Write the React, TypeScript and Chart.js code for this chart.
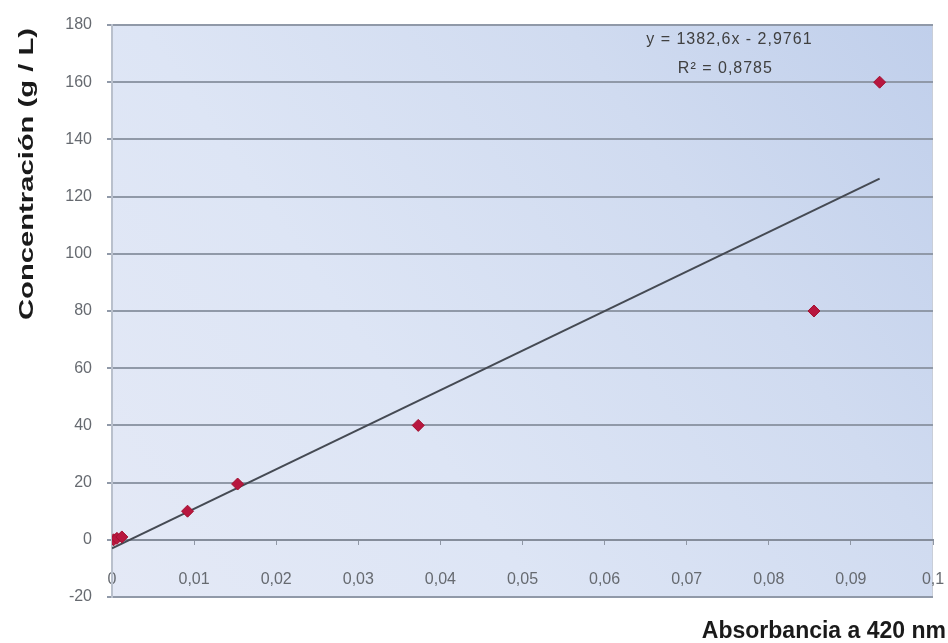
import React, { useEffect, useRef } from "react";
import { Chart, registerables } from "chart.js";

Chart.register(...registerables);

// Absorbance readings (x) and concentrations in g/L (y)
const absorbancia = [0.0002, 0.0006, 0.0012, 0.0092, 0.0153, 0.0373, 0.0855, 0.0935];
const concentracion = [0, 0.5, 1, 10, 19.5, 40, 80, 160];

// Linear fit reported on the chart
const pendiente = 1382.6;
const intercepto = -2.9761;
const ecuacion = "y = 1382,6x - 2,9761";
const coefR2 = "R² = 0,8785";

const tituloY = "Concentración (g / L)";
const tituloX = "Absorbancia a 420 nm";

const FONT = "'Liberation Sans', 'DejaVu Sans', sans-serif";

const fmt = (v: number) => {
  const n = Number(v.toFixed(3));
  return String(n).replace(".", ",");
};

const plotBackground = {
  id: "plotBackground",
  beforeDraw(chart: any) {
    const { ctx, chartArea: a, width, height } = chart;
    ctx.save();
    ctx.fillStyle = "#ffffff";
    ctx.fillRect(0, 0, width, height);
    const g = ctx.createLinearGradient(a.left, a.bottom, a.right, a.top);
    g.addColorStop(0, "#e4e9f6");
    g.addColorStop(0.35, "#dde5f5");
    g.addColorStop(0.7, "#d0dbf0");
    g.addColorStop(1, "#c0cfeb");
    ctx.fillStyle = g;
    ctx.fillRect(a.left, a.top, a.right - a.left, a.bottom - a.top);
    ctx.strokeStyle = "#c9ced8";
    ctx.lineWidth = 1;
    ctx.strokeRect(a.left + 0.5, a.top + 0.5, a.right - a.left - 1, a.bottom - a.top - 1);
    ctx.restore();
  },
};

const annotations = {
  id: "annotations",
  afterDraw(chart: any) {
    const { ctx, chartArea: a } = chart;
    ctx.save();

    // trendline equation and R²
    ctx.fillStyle = "#404040";
    ctx.textAlign = "center";
    ctx.textBaseline = "middle";
    ctx.font = `16px ${FONT}`;
    (ctx as any).letterSpacing = "1px";
    const cx = a.left + (a.right - a.left) * 0.752;
    ctx.fillText(ecuacion, cx, a.top + 15);
    ctx.fillText(coefR2, cx - 4, a.top + 44);
    (ctx as any).letterSpacing = "0px";

    // x axis title, right aligned under the plot
    ctx.fillStyle = "#1a1a1a";
    ctx.font = `bold 23px ${FONT}`;
    ctx.textAlign = "right";
    ctx.textBaseline = "alphabetic";
    ctx.fillText(tituloX, chart.width - 2, chart.height - 5);

    // y axis title, rotated and anchored to the top of the axis
    ctx.font = `bold 20px ${FONT}`;
    const w = ctx.measureText(tituloY).width;
    const span = 292;
    ctx.translate(27, a.top + 3);
    ctx.rotate(-Math.PI / 2);
    ctx.scale(span / w, 1);
    ctx.textAlign = "right";
    ctx.textBaseline = "middle";
    ctx.fillText(tituloY, 0, 0);
    ctx.restore();
  },
};

export default function App() {
  const ref = useRef<HTMLCanvasElement | null>(null);

  useEffect(() => {
    if (!ref.current) return;
    const xMax = Math.max(...absorbancia);
    const puntos = absorbancia.map((x, i) => ({ x, y: concentracion[i] }));
    const tendencia = [
      { x: 0, y: intercepto },
      { x: xMax, y: pendiente * xMax + intercepto },
    ];

    const chart = new Chart(ref.current, {
      type: "scatter",
      data: {
        datasets: [
          {
            label: "Concentración",
            data: puntos,
            pointStyle: "rectRot",
            pointRadius: 6,
            backgroundColor: "#b8173f",
            borderColor: "#a3102f",
            borderWidth: 1,
            order: 0,
          },
          {
            type: "line",
            label: "Lineal",
            data: tendencia,
            borderColor: "#454a53",
            borderWidth: 2,
            pointRadius: 0,
            fill: false,
            order: 1,
          } as any,
        ],
      },
      options: {
        animation: false,
        responsive: false,
        maintainAspectRatio: false,
        layout: { padding: { top: 25, right: 15, bottom: 46, left: 0 } },
        plugins: {
          legend: { display: false },
          tooltip: { enabled: false },
        },
        scales: {
          x: {
            type: "linear",
            position: { y: 0 } as any,
            min: 0,
            max: 0.1,
            ticks: {
              stepSize: 0.01,
              color: "#666a70",
              font: { family: FONT, size: 16 },
              padding: 26,
              maxRotation: 0,
              autoSkip: false,
              callback: (v: any) => fmt(Number(v)),
            },
            grid: {
              drawOnChartArea: false,
              drawTicks: true,
              tickLength: 4,
              color: "#8f97a5",
            },
            border: { display: true, color: "#858d9b", width: 2 },
            afterFit: (scale: any) => {
              scale.paddingLeft = 0;
              scale.paddingRight = 0;
            },
          },
          y: {
            type: "linear",
            min: -20,
            max: 180,
            ticks: {
              stepSize: 20,
              color: "#666a70",
              font: { family: FONT, size: 16 },
              padding: 15,
            },
            grid: {
              color: "#9099a8",
              lineWidth: 2,
              drawTicks: true,
              tickLength: 5,
            },
            border: { display: true, color: "#b9c0cc", width: 2 },
            afterFit: (scale: any) => {
              scale.width = 112;
              scale.paddingTop = 0;
              scale.paddingBottom = 0;
            },
          },
        },
      },
      plugins: [plotBackground, annotations],
    });
    return () => chart.destroy();
  }, []);

  return (
    <div style={{ position: "absolute", left: 0, top: 0, width: 948, height: 643 }}>
      <canvas ref={ref} width={948} height={643} style={{ display: "block" }} />
    </div>
  );
}
